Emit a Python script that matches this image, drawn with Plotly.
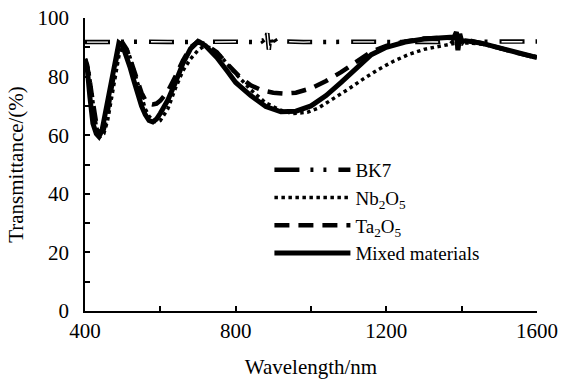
import plotly.graph_objects as go

# ---- data ----
bk7_x = [400, 440, 500, 560, 620, 680, 740, 800, 850, 870, 878, 884, 888, 892, 897, 903, 910, 930,
         980, 1040, 1100, 1160, 1220, 1280, 1340, 1370, 1380, 1386, 1390, 1394, 1398, 1404, 1412,
         1440, 1500, 1560, 1600]
bk7_y = [91.8, 91.9, 91.8, 91.9, 91.8, 91.9, 91.8, 91.9, 91.8, 92.3, 90.8, 94.8, 89.2, 93.8, 90.6,
         92.8, 91.4, 92.0, 91.8, 91.9, 91.8, 91.9, 91.8, 91.9, 91.8, 92.4, 91.2, 94.6, 89.6, 93.4,
         90.8, 92.6, 91.5, 91.9, 91.8, 91.9, 92.0]

nb_x = [400, 405, 410, 420, 430, 440, 450, 460, 470, 480, 490, 500, 510, 520, 530, 540, 550, 560,
        570, 580, 590, 600, 620, 640, 660, 680, 700, 715, 730, 760, 800, 840, 880, 920, 950, 990,
        1020, 1060, 1100, 1140, 1180, 1220, 1260, 1300, 1340, 1380, 1420, 1460, 1500, 1550, 1600]
nb_y = [86.0, 84.5, 82.0, 72.0, 63.0, 59.5, 60.5, 65.0, 72.0, 80.0, 87.0, 91.0, 90.0, 86.5, 82.0,
        77.0, 72.5, 69.0, 66.5, 65.0, 64.5, 65.0, 69.0, 76.0, 82.0, 86.0, 89.0, 90.3, 90.0, 87.0,
        81.0, 75.5, 71.0, 68.5, 67.4, 67.8, 69.3, 72.5, 75.8, 79.3, 82.5, 85.3, 87.6, 89.3, 90.3,
        91.3, 91.5, 91.0, 89.6, 88.0, 86.8]

ta_x = [400, 405, 410, 420, 430, 440, 450, 460, 470, 480, 490, 500, 510, 520, 530, 540, 550, 560,
        570, 580, 590, 600, 620, 640, 660, 680, 700, 720, 750, 780, 810, 840, 870, 900, 930, 960,
        1000, 1040, 1080, 1120, 1160, 1200, 1250, 1300, 1350, 1400, 1450, 1500, 1550, 1600]
ta_y = [86.0, 83.5, 81.0, 72.0, 64.0, 61.0, 62.0, 68.0, 76.0, 85.0, 91.0, 91.5, 89.5, 86.0, 82.0,
        78.0, 74.5, 72.0, 70.8, 70.5, 70.8, 71.8, 75.0, 80.0, 85.5, 90.0, 92.0, 91.0, 88.3, 84.0,
        80.0, 77.0, 75.3, 74.5, 74.2, 74.5, 76.0, 78.5, 81.5, 85.0, 88.5, 90.5, 92.0, 93.0, 93.3,
        93.0, 91.5, 89.8, 88.0, 86.5]

mix_x = [400, 405, 413, 421, 430, 437, 445, 450, 460, 470, 480, 490, 500, 510, 520, 530, 540, 550,
         560, 570, 580, 590, 600, 620, 640, 660, 680, 700, 720, 750, 780, 800, 840, 880, 920, 960,
         1000, 1040, 1080, 1120, 1160, 1200, 1250, 1300, 1350, 1380, 1386, 1390, 1395, 1400, 1410,
         1450, 1500, 1550, 1600]
mix_y = [86.0, 84.0, 73.0, 64.0, 60.5, 59.5, 61.5, 65.0, 71.0, 77.5, 85.0, 91.5, 90.5, 87.0, 83.0,
         78.5, 74.0, 70.0, 67.0, 65.0, 64.5, 65.5, 67.5, 72.0, 78.0, 84.5, 89.5, 92.0, 90.5, 86.5,
         81.5, 78.0, 73.5, 69.8, 68.0, 68.2, 70.0, 73.5, 78.0, 83.0, 87.5, 90.0, 91.8, 92.8, 93.5,
         93.5, 95.2, 89.0, 94.6, 92.0, 92.2, 91.5, 89.8, 88.0, 86.5]

x_tickvals = [400, 600, 800, 1000, 1200, 1400, 1600]
x_ticktext = ["400", "", "800", "", "1200", "", "1600"]
y_tickvals = [0, 10, 20, 30, 40, 50, 60, 70, 80, 90, 100]
y_ticktext = ["0", "", "20", "", "40", "", "60", "", "80", "", "100"]

names = ["BK7", "Nb<sub>2</sub>O<sub>5</sub>", "Ta<sub>2</sub>O<sub>5</sub>", "Mixed materials"]

FONT = "Liberation Serif"

fig = go.Figure()

# BK7: hollow long dash + two dots
fig.add_trace(go.Scatter(x=bk7_x, y=bk7_y, mode="lines", name=names[0],
                         line=dict(color="black", width=4.5, dash="25px,11px,3px,10px,3px,12px")))
fig.add_trace(go.Scatter(x=bk7_x, y=bk7_y, mode="lines", showlegend=False, hoverinfo="skip",
                         line=dict(color="white", width=1.3, dash="0px,2px,21px,41px")))
fig.add_trace(go.Scatter(x=nb_x, y=nb_y, mode="lines", name=names[1],
                         line=dict(color="black", width=3.5, dash="3.5px,3.5px")))
fig.add_trace(go.Scatter(x=ta_x, y=ta_y, mode="lines", name=names[2],
                         line=dict(color="black", width=4.5, dash="15px,9px")))
fig.add_trace(go.Scatter(x=mix_x, y=mix_y, mode="lines", name=names[3],
                         line=dict(color="black", width=5)))

fig.update_layout(
    width=569, height=379,
    margin=dict(l=85, r=32, t=18, b=68),
    paper_bgcolor="white", plot_bgcolor="white",
    font=dict(family=FONT, size=20, color="black"),
    showlegend=True,
    legend=dict(x=0.408, y=0.546, xanchor="left", yanchor="top",
                bgcolor="rgba(0,0,0,0)", font=dict(family=FONT, size=19, color="black"),
                itemwidth=76, tracegroupgap=0),
    xaxis=dict(range=[400, 1600], tickmode="array", tickvals=x_tickvals, ticktext=x_ticktext,
               ticks="inside", ticklen=5, tickwidth=1.5, tickcolor="black",
               showline=True, linecolor="black", linewidth=1.5, showgrid=False, zeroline=False,
               automargin=False,
               tickfont=dict(family=FONT, size=21),
               title=dict(text="Wavelength/nm", standoff=24, font=dict(family=FONT, size=21))),
    yaxis=dict(range=[0, 100], tickmode="array", tickvals=y_tickvals, ticktext=y_ticktext,
               ticks="inside", ticklen=5, tickwidth=1.5, tickcolor="black",
               showline=True, linecolor="black", linewidth=1.5, showgrid=False, zeroline=False,
               automargin=False,
               ticklabelstandoff=10, tickfont=dict(family=FONT, size=21),
               title=dict(text="Transmittance/(%)", standoff=8, font=dict(family=FONT, size=21))),
)

fig.write_html("out.html")
